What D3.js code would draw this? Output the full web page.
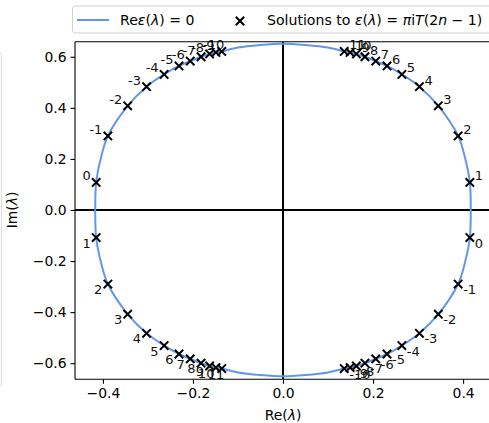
<!DOCTYPE html>
<html><head><meta charset="utf-8">
<script src="https://cdn.jsdelivr.net/npm/d3@7"></script>
<style>body{margin:0;background:#fff}svg{display:block}text{font-family:"DejaVu Sans",sans-serif}</style>
</head><body><svg id="c" width="489" height="423"></svg>
<script>
// ---- data ----
const xTicks = [-0.4, -0.2, 0.0, 0.2, 0.4];
const yTicks = [-0.6, -0.4, -0.2, 0.0, 0.2, 0.4, 0.6];
// Re eps(lambda)=0 curve, first quadrant, mirrored to all quadrants
const curveQX = [0.417, 0.415, 0.405, 0.389, 0.345, 0.303, 0.264, 0.231, 0.206, 0.182, 0.163, 0.149, 0.136, 0.100, 0.050, 0.000];
const curveQY = [0.000, 0.108, 0.200, 0.290, 0.408, 0.483, 0.531, 0.564, 0.583, 0.600, 0.611, 0.617, 0.621, 0.636, 0.646, 0.651];
// solutions
const ulLabels = ["0","-1","-2","-3","-4","-5","-6","-7","-8","-9","-10"];
const ulX = [-0.415,-0.389,-0.345,-0.303,-0.264,-0.231,-0.206,-0.182,-0.163,-0.149,-0.136];
const ulY = [0.108,0.290,0.408,0.483,0.531,0.564,0.583,0.600,0.611,0.617,0.621];
const urLabels = ["1","2","3","4","5","6","7","8","9","10","11"];
const urX = [0.415,0.389,0.345,0.303,0.264,0.231,0.206,0.182,0.163,0.149,0.136];
const urY = [0.108,0.290,0.408,0.483,0.531,0.564,0.583,0.600,0.611,0.617,0.621];
const llLabels = ["1","2","3","4","5","6","7","8","9","10","11"];
const llX = [-0.415,-0.389,-0.345,-0.303,-0.264,-0.231,-0.206,-0.182,-0.163,-0.149,-0.136];
const llY = [-0.108,-0.290,-0.408,-0.483,-0.531,-0.564,-0.583,-0.600,-0.611,-0.617,-0.621];
const lrLabels = ["0","-1","-2","-3","-4","-5","-6","-7","-8","-9","-10"];
const lrX = [0.415,0.389,0.345,0.303,0.264,0.231,0.206,0.182,0.163,0.149,0.136];
const lrY = [-0.108,-0.290,-0.408,-0.483,-0.531,-0.564,-0.583,-0.600,-0.611,-0.617,-0.621];

// ---- layout ----
const svg = d3.select("#c");
const L = 75, R = 491, T = 41.7, B = 379.3;
const x = d3.scaleLinear().domain([-0.462, 0.462]).range([L, R]);
const y = d3.scaleLinear().domain([-0.663, 0.659]).range([B, T]);
const blue = "#6495ED";

// faint edge of neighbouring panel
svg.append("path").attr("d", "M -5 52 L -1 52 Q 1.5 52 1.5 55 L 1.5 384 Q 1.5 387 -1 387 L -5 387")
  .attr("fill", "none").attr("stroke", "#dedede").attr("stroke-width", 1);

svg.append("clipPath").attr("id", "clp").append("rect")
  .attr("x", L).attr("y", T).attr("width", R - L).attr("height", B - T);
const g = svg.append("g").attr("clip-path", "url(#clp)");

// zero lines
g.append("line").attr("x1", L).attr("x2", R).attr("y1", y(0)).attr("y2", y(0)).attr("stroke", "#000").attr("stroke-width", 2);
g.append("line").attr("x1", x(0)).attr("x2", x(0)).attr("y1", T).attr("y2", B).attr("stroke", "#000").attr("stroke-width", 2);

// curve (closed loop from quadrant by symmetry)
const loop = [];
curveQX.forEach((v, i) => loop.push([v, curveQY[i]]));
for (let i = curveQX.length - 2; i >= 0; i--) loop.push([-curveQX[i], curveQY[i]]);
for (let i = 1; i < curveQX.length; i++) loop.push([-curveQX[i], -curveQY[i]]);
for (let i = curveQX.length - 2; i > 0; i--) loop.push([curveQX[i], -curveQY[i]]);
g.append("path").datum(loop)
  .attr("d", d3.line().x(d => x(d[0])).y(d => y(d[1])).curve(d3.curveCatmullRomClosed.alpha(0.5)))
  .attr("fill", "none").attr("stroke", blue).attr("stroke-width", 2);

// markers + labels
function markX(sel, px, py, s) {
  sel.append("path").attr("d", `M${px - s},${py - s}L${px + s},${py + s}M${px - s},${py + s}L${px + s},${py - s}`)
    .attr("stroke", "#000").attr("stroke-width", 2).attr("fill", "none");
}
const groups = [
  {lab: ulLabels, xs: ulX, ys: ulY, left: true, up: true},
  {lab: urLabels, xs: urX, ys: urY, left: false, up: true},
  {lab: llLabels, xs: llX, ys: llY, left: true, up: false},
  {lab: lrLabels, xs: lrX, ys: lrY, left: false, up: false}
];
const mg = svg.append("g");
groups.forEach(G => {
  G.xs.forEach((v, i) => {
    const px = x(v), py = y(G.ys[i]);
    markX(mg, px, py, 4.2);
    const dx = G.left ? (-5.5 + (i >= 9 ? (i - 8) * 4 : 0)) : 5;
    mg.append("text").attr("x", px + dx).attr("y", G.up ? py - 2 : py + 10)
      .attr("text-anchor", G.left ? "end" : "start").attr("font-size", 13).attr("fill", "#111").text(G.lab[i]);
  });
});

// spines
svg.append("line").attr("x1", L).attr("x2", L).attr("y1", T).attr("y2", B).attr("stroke", "#000").attr("stroke-width", 1.1);
svg.append("line").attr("x1", L).attr("x2", R).attr("y1", B).attr("y2", B).attr("stroke", "#000").attr("stroke-width", 1.1);
svg.append("line").attr("x1", L).attr("x2", R).attr("y1", T).attr("y2", T).attr("stroke", "#000").attr("stroke-width", 1.1);
svg.append("line").attr("x1", R).attr("x2", R).attr("y1", T).attr("y2", B).attr("stroke", "#000").attr("stroke-width", 1.1);

// axes
const fmt = d => d3.format(".1f")(d).replace("-", "\u2212");
const xa = svg.append("g").attr("transform", `translate(0,${B})`)
  .call(d3.axisBottom(x).tickValues(xTicks).tickFormat(fmt).tickSize(4.5).tickPadding(4));
const ya = svg.append("g").attr("transform", `translate(${L},0)`)
  .call(d3.axisLeft(y).tickValues(yTicks).tickFormat(fmt).tickSize(4.5).tickPadding(4));
[xa, ya].forEach(a => {
  a.select(".domain").remove();
  a.selectAll("line").attr("stroke", "#000").attr("stroke-width", 1.1);
  a.selectAll("text").attr("font-size", 13.9).attr("fill", "#000").attr("font-family", "DejaVu Sans");
});

// axis labels
const xl = svg.append("text").attr("x", x(0)).attr("y", 419.5).attr("text-anchor", "middle").attr("font-size", 13.9);
xl.append("tspan").text("Re(");
xl.append("tspan").attr("font-style", "italic").text("λ");
xl.append("tspan").text(")");
const yl = svg.append("text").attr("transform", `translate(17,${y(0)}) rotate(-90)`).attr("text-anchor", "middle").attr("font-size", 13.9);
yl.append("tspan").text("Im(");
yl.append("tspan").attr("font-style", "italic").text("λ");
yl.append("tspan").text(")");

// legend
svg.append("rect").attr("x", 72.5).attr("y", 6).attr("width", 440).attr("height", 27).attr("rx", 3)
  .attr("fill", "#fff").attr("stroke", "#d0d0d0").attr("stroke-width", 1);
svg.append("line").attr("x1", 77).attr("x2", 109).attr("y1", 20).attr("y2", 20).attr("stroke", blue).attr("stroke-width", 2);
const t1 = svg.append("text").attr("x", 120).attr("y", 25).attr("font-size", 14.1);
t1.append("tspan").text("Re");
t1.append("tspan").attr("font-style", "italic").text("ε");
t1.append("tspan").text("(");
t1.append("tspan").attr("font-style", "italic").text("λ");
t1.append("tspan").text(") = 0");
markX(svg, 240, 21, 4.2);
const t2 = svg.append("text").attr("x", 267).attr("y", 25).attr("font-size", 14.1);
t2.append("tspan").text("Solutions to ");
t2.append("tspan").attr("font-style", "italic").text("ε");
t2.append("tspan").text("(");
t2.append("tspan").attr("font-style", "italic").text("λ");
t2.append("tspan").text(") = ");
t2.append("tspan").attr("font-style", "italic").text("π");
t2.append("tspan").text("i");
t2.append("tspan").attr("font-style", "italic").text("T");
t2.append("tspan").text("(2");
t2.append("tspan").attr("font-style", "italic").text("n");
t2.append("tspan").text(" \u2212 1)");
</script></body></html>
